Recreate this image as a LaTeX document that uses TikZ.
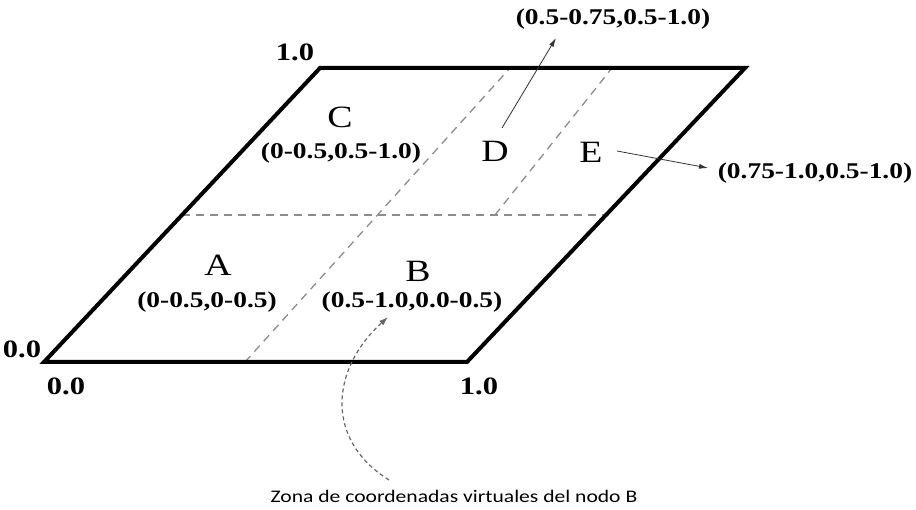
\documentclass[tikz,border=0pt]{standalone}
\usepackage{fontspec}
\usepackage{graphicx}
\setmainfont{Liberation Serif}
\newfontfamily\zonafont{Carlito}
\usetikzlibrary{arrows.meta}
\newcommand{\widetxt}[1]{\scalebox{1.22}[1]{#1}}
\tikzset{
  frame/.style={line width=4pt, line join=miter},
  grid/.style={draw=black!45, line width=1.3pt, dash pattern=on 8pt off 6pt},
  letter/.style={font=\fontsize{31}{32}\selectfont, inner sep=0pt},
  coord/.style={font=\fontsize{22.5}{23}\selectfont\bfseries, inner sep=0pt},
  axis/.style={font=\fontsize{25}{26}\selectfont\bfseries, inner sep=0pt},
  pointer/.style={draw=black!80, line width=0.8pt, -{Latex[length=9pt,width=5pt]}},
  curvy/.style={draw=black!60, line width=1.2pt, dash pattern=on 4pt off 3pt, -{Latex[length=9pt,width=6pt]}}
}
\begin{document}
\begin{tikzpicture}[x=1pt,y=-1pt]
\useasboundingbox (0,0) rectangle (916,510);
\coordinate (BL) at (44,362);
\coordinate (BR) at (467,362);
\coordinate (TR) at (745,68);
\coordinate (TL) at (320,68);
\coordinate (ML) at (182,215);
\coordinate (MR) at (605,215);
\coordinate (VB) at (245,362);
\coordinate (VT) at (510,68);
\coordinate (DB) at (495,215);
\coordinate (DT) at (612,68);
\draw[grid] (ML) -- (MR);
\draw[grid] (VB) -- (VT);
\draw[grid] (DB) -- (DT);
\draw[frame] (BL) -- (BR) -- (TR) -- (TL) -- cycle;

\node[axis] (t10) at (295,52) {\widetxt{1.0}};
\node[axis] (l00) at (22,349) {\widetxt{0.0}};
\node[axis] (b00) at (66,386) {\widetxt{0.0}};
\node[axis] (b10) at (479,386) {\widetxt{1.0}};

\node[letter] (C) at (340,117) {\widetxt{C}};
\node[coord] (Cc) at (341,153) {\widetxt{(0-0.5,0.5-1.0)}};
\node[letter] (D) at (495,151) {\widetxt{D}};
\node[letter] (E) at (591,152) {\widetxt{E}};
\node[letter] (A) at (218,265) {\widetxt{A}};
\node[coord] (Ac) at (207,302) {\widetxt{(0-0.5,0-0.5)}};
\node[letter] (B) at (418,271) {\widetxt{B}};
\node[coord] (Bc) at (412,302) {\widetxt{(0.5-1.0,0.0-0.5)}};
\node[coord] (Dc) at (613,19) {\widetxt{(0.5-0.75,0.5-1.0)}};
\node[coord] (Ec) at (815,173) {\widetxt{(0.75-1.0,0.5-1.0)}};
\node[inner sep=0pt, font=\zonafont\fontsize{17.7}{19}\selectfont] (Z) at (454,496) {\widetxt{Zona de coordenadas virtuales del nodo B}};

\coordinate (Dstart) at (502,128);
\coordinate (Dend) at (556,38);
\draw[pointer] (Dstart) -- (Dend);
\coordinate (Estart) at (617,151);
\coordinate (Eend) at (708,168);
\draw[pointer] (Estart) -- (Eend);
\coordinate (Zstart) at (389,480);
\coordinate (Zend) at (388,317);
\draw[curvy] (Zstart) .. controls (325,440) and (330,370) .. (Zend);
\end{tikzpicture}
\end{document}
